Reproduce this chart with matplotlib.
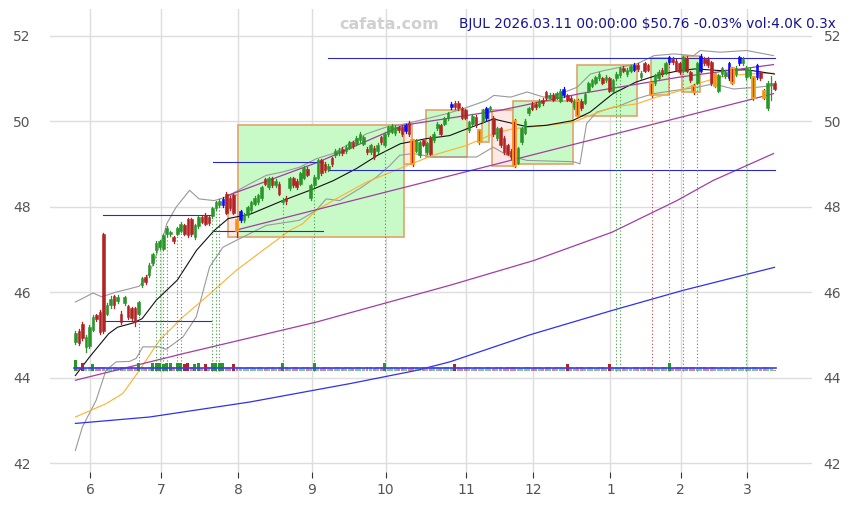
import matplotlib
matplotlib.use("Agg")
from matplotlib import pyplot as plt
from matplotlib.patches import Rectangle
import pandas as pd

# daily bars
opens = [44.83, 45.09, 45.25, 44.72, 44.75, 45.12, 45.46, 45.54, 47.35, 45.50,
         45.69, 45.90, 45.79, 45.50, 45.74, 45.67, 45.62, 45.62, 45.50, 46.16,
         46.35, 46.39, 46.67, 46.98, 47.05, 47.02, 47.35, 47.35, 47.28, 47.37,
         47.44, 47.56, 47.70, 47.70, 47.28, 47.55, 47.75, 47.80, 47.75, 47.77,
         47.96, 48.03, 48.03, 48.30, 48.20, 48.26, 47.68, 47.68, 47.68, 47.80,
         47.91, 48.07, 48.10, 48.20, 48.64, 48.45, 48.66, 48.50, 48.54, 48.10,
         48.20, 48.43, 48.66, 48.60, 48.54, 48.68, 48.88, 48.20, 48.50, 48.68,
         49.08, 49.00, 48.87, 49.13, 49.20, 49.25, 49.35, 49.30, 49.38, 49.50,
         49.47, 49.55, 49.47, 49.35, 49.27, 49.38, 49.30, 49.62, 49.45, 49.70,
         49.75, 49.72, 49.85, 49.85, 49.76, 49.96, 49.55, 49.31, 49.20, 49.55,
         49.27, 49.60, 49.55, 49.83, 49.90, 49.94, 50.06, 50.32, 50.43, 50.43,
         50.30, 50.25, 49.78, 49.94, 50.10, 49.50, 50.01, 50.06, 50.28, 50.08,
         49.60, 49.83, 49.60, 49.43, 49.30, 50.00, 49.03, 49.50, 49.73, 50.18,
         50.41, 50.40, 50.36, 50.50, 50.67, 50.55, 50.62, 50.55, 50.48, 50.60,
         50.60, 50.55, 50.32, 50.48, 50.48, 50.43, 50.71, 50.83, 50.90, 51.00,
         51.00, 50.95, 51.00, 50.71, 51.00, 51.07, 51.25, 51.10, 51.18, 51.20,
         51.32, 51.02, 51.35, 51.30, 50.88, 50.88, 51.00, 51.20, 51.13, 51.37,
         51.45, 51.40, 51.35, 51.18, 51.47, 51.14, 50.83, 50.90, 51.18, 51.46,
         51.46, 51.37, 50.83, 50.71, 51.10, 51.05, 51.00, 51.23, 51.10, 51.35,
         51.35, 51.02, 51.05, 50.53, 51.02, 51.14, 50.71, 50.30, 50.85, 50.90]
closes = [45.04, 44.81, 44.92, 44.95, 45.18, 45.42, 45.36, 45.07, 45.10, 45.69,
          45.85, 45.69, 45.89, 45.29, 45.88, 45.41, 45.39, 45.29, 45.76, 46.32,
          46.23, 46.63, 46.88, 47.16, 47.19, 47.33, 47.51, 47.40, 47.19, 47.49,
          47.60, 47.37, 47.33, 47.35, 47.56, 47.75, 47.65, 47.60, 47.62, 47.96,
          48.10, 48.14, 48.18, 47.86, 47.96, 47.86, 47.44, 47.89, 47.80, 47.98,
          48.10, 48.20, 48.26, 48.45, 48.54, 48.66, 48.50, 48.60, 48.30, 48.16,
          48.12, 48.66, 48.50, 48.45, 48.78, 48.90, 48.75, 48.50, 48.70, 49.08,
          48.78, 48.85, 48.96, 49.00, 49.30, 49.33, 49.25, 49.40, 49.50, 49.42,
          49.60, 49.70, 49.62, 49.28, 49.43, 49.15, 49.45, 49.50, 49.70, 49.85,
          49.88, 49.86, 49.78, 49.70, 49.90, 49.70, 49.00, 49.55, 49.50, 49.45,
          49.48, 49.24, 49.70, 49.94, 49.70, 50.06, 50.18, 50.41, 50.32, 50.30,
          50.08, 50.08, 49.97, 50.13, 49.90, 49.78, 50.25, 50.30, 50.32, 49.70,
          49.83, 49.43, 49.27, 49.24, 49.15, 48.96, 49.36, 49.83, 50.00, 50.30,
          50.29, 50.32, 50.48, 50.42, 50.53, 50.62, 50.50, 50.65, 50.70, 50.76,
          50.50, 50.48, 50.48, 50.13, 50.30, 50.64, 50.88, 50.95, 51.02, 51.10,
          50.90, 51.03, 50.71, 50.95, 51.10, 51.23, 51.18, 51.20, 51.28, 51.32,
          51.22, 51.13, 51.18, 51.20, 50.62, 51.07, 51.15, 51.10, 51.35, 51.49,
          51.38, 51.20, 51.15, 51.49, 51.18, 50.95, 50.67, 51.35, 51.53, 51.35,
          51.30, 50.88, 51.10, 51.07, 51.23, 51.15, 51.35, 50.90, 51.25, 51.49,
          51.46, 51.25, 51.20, 51.02, 51.30, 51.00, 50.55, 50.90, 50.90, 50.76]
highs = [45.10, 45.14, 45.30, 45.00, 45.22, 45.46, 45.50, 45.58, 47.38, 45.74,
         45.90, 45.94, 45.93, 45.55, 45.92, 45.71, 45.66, 45.66, 45.80, 46.36,
         46.39, 46.67, 46.92, 47.20, 47.23, 47.37, 47.55, 47.44, 47.32, 47.53,
         47.64, 47.60, 47.74, 47.74, 47.60, 47.79, 47.79, 47.84, 47.79, 48.00,
         48.14, 48.18, 48.22, 48.34, 48.24, 48.30, 47.72, 47.93, 47.84, 48.02,
         48.14, 48.24, 48.30, 48.49, 48.68, 48.70, 48.70, 48.64, 48.58, 48.20,
         48.24, 48.70, 48.70, 48.64, 48.82, 48.94, 48.92, 48.54, 48.74, 49.12,
         49.12, 49.04, 49.00, 49.17, 49.34, 49.37, 49.39, 49.44, 49.54, 49.54,
         49.64, 49.74, 49.66, 49.39, 49.47, 49.42, 49.49, 49.66, 49.74, 49.89,
         49.92, 49.90, 49.89, 49.89, 49.94, 50.00, 49.59, 49.59, 49.54, 49.59,
         49.52, 49.64, 49.74, 49.98, 49.94, 50.10, 50.22, 50.45, 50.47, 50.47,
         50.34, 50.29, 50.01, 50.17, 50.14, 49.82, 50.29, 50.34, 50.36, 50.12,
         49.87, 49.87, 49.64, 49.47, 49.34, 50.04, 49.40, 49.87, 50.04, 50.34,
         50.45, 50.44, 50.52, 50.54, 50.71, 50.66, 50.66, 50.69, 50.74, 50.80,
         50.64, 50.59, 50.52, 50.52, 50.52, 50.68, 50.92, 50.99, 51.06, 51.14,
         51.04, 51.07, 51.04, 50.99, 51.14, 51.27, 51.29, 51.24, 51.32, 51.36,
         51.36, 51.17, 51.39, 51.34, 50.92, 51.11, 51.19, 51.24, 51.39, 51.53,
         51.49, 51.44, 51.39, 51.53, 51.51, 51.18, 50.87, 51.39, 51.57, 51.50,
         51.50, 51.41, 51.14, 51.11, 51.27, 51.19, 51.39, 51.27, 51.29, 51.53,
         51.50, 51.29, 51.24, 51.06, 51.34, 51.18, 50.75, 50.94, 51.05, 50.94]
lows = [44.78, 44.76, 44.88, 44.60, 44.70, 45.08, 45.32, 45.02, 45.05, 45.46,
        45.64, 45.64, 45.75, 45.25, 45.70, 45.37, 45.35, 45.20, 45.46, 46.12,
        46.19, 46.35, 46.63, 46.94, 47.01, 46.98, 47.31, 47.31, 47.15, 47.33,
        47.40, 47.33, 47.29, 47.31, 47.24, 47.51, 47.61, 47.56, 47.58, 47.73,
        47.92, 47.99, 47.99, 47.82, 47.92, 47.82, 47.28, 47.64, 47.64, 47.76,
        47.87, 48.03, 48.06, 48.16, 48.50, 48.41, 48.46, 48.46, 48.26, 48.06,
        48.06, 48.39, 48.46, 48.41, 48.50, 48.64, 48.71, 48.16, 48.46, 48.64,
        48.74, 48.81, 48.83, 48.96, 49.16, 49.21, 49.21, 49.26, 49.34, 49.38,
        49.43, 49.51, 49.43, 49.24, 49.23, 49.11, 49.26, 49.46, 49.41, 49.66,
        49.71, 49.68, 49.74, 49.66, 49.72, 49.66, 48.96, 49.27, 49.16, 49.41,
        49.23, 49.20, 49.51, 49.79, 49.66, 49.90, 50.02, 50.28, 50.28, 50.26,
        50.04, 50.04, 49.74, 49.90, 49.86, 49.46, 49.97, 50.02, 50.24, 49.66,
        49.56, 49.39, 49.23, 49.20, 49.11, 48.92, 48.99, 49.46, 49.69, 50.14,
        50.25, 50.28, 50.32, 50.38, 50.49, 50.51, 50.46, 50.51, 50.44, 50.56,
        50.46, 50.44, 50.28, 50.09, 50.26, 50.39, 50.67, 50.79, 50.86, 50.96,
        50.86, 50.91, 50.67, 50.67, 50.96, 51.03, 51.14, 51.06, 51.14, 51.16,
        51.18, 50.98, 51.14, 51.16, 50.58, 50.84, 50.96, 51.06, 51.09, 51.33,
        51.34, 51.16, 51.11, 51.14, 51.14, 50.91, 50.63, 50.86, 51.14, 51.31,
        51.26, 50.84, 50.79, 50.67, 51.06, 51.01, 50.96, 50.86, 51.06, 51.31,
        51.31, 50.98, 51.01, 50.49, 50.98, 50.96, 50.51, 50.26, 50.50, 50.72]
volumes = [32, 12, 22, 10, 12, 21, 11, 12, 13, 10, 9, 11, 10, 12, 11, 9, 12, 10, 22, 11,
           10, 12, 22, 23, 22, 21, 22, 23, 12, 22, 22, 21, 22, 12, 21, 22, 10, 21, 11, 22,
           23, 22, 22, 12, 11, 21, 13, 12, 10, 11, 12, 10, 11, 12, 10, 11, 12, 10, 11, 22,
           12, 10, 11, 12, 10, 11, 12, 10, 22, 11, 10, 12, 11, 10, 12, 11, 10, 12, 11, 10,
           12, 11, 10, 12, 11, 10, 12, 11, 22, 10, 11, 12, 10, 11, 12, 10, 13, 11, 10, 12,
           11, 10, 12, 11, 10, 12, 11, 10, 21, 12, 10, 11, 12, 10, 11, 12, 10, 11, 12, 10,
           11, 12, 10, 11, 12, 13, 11, 10, 12, 11, 10, 12, 11, 10, 12, 11, 10, 12, 11, 10,
           21, 11, 10, 12, 11, 10, 12, 11, 10, 12, 11, 10, 21, 11, 12, 10, 11, 12, 10, 11,
           12, 10, 11, 12, 13, 11, 10, 12, 11, 22, 10, 12, 11, 10, 12, 11, 13, 10, 12, 11,
           10, 12, 11, 10, 12, 11, 10, 12, 11, 10, 12, 11, 10, 11, 12, 10, 11, 12, 10, 4]

blue_bars = [42, 47, 94, 107, 117, 139, 159, 169, 178, 186, 189, 194]
orange_bars = [46, 96, 115, 125, 143, 164, 176, 182, 187, 193, 196]
signal_up = [18, 23, 24, 25, 26, 29, 30, 39, 40, 41, 59, 68, 88, 154, 155, 169, 173, 177, 191]
signal_dn = [164]

# indicator lines, (bar index, price)
ma_black = [(0, 44.05), (4, 44.48), (9.5, 45.03), (12, 45.18), (16.5, 45.28), (19, 45.38),
            (23, 45.81), (29, 46.28), (34.5, 46.98), (39.5, 47.44), (43.5, 47.72), (50, 47.83),
            (59, 48.14), (68, 48.42), (73.5, 48.61), (80, 48.89), (86, 49.2), (92.5, 49.47),
            (100, 49.59), (106.5, 49.66), (111.5, 49.82), (119, 50.05), (121, 50.01),
            (128.5, 49.87), (134, 49.9), (141.5, 50.01), (146.5, 50.21), (153, 50.64),
            (159.5, 50.91), (165.5, 51.07), (172, 51.18), (176.5, 51.22), (183.5, 51.18),
            (191, 51.2), (199, 51.1)]
band_up = [(0, 45.77), (2, 45.85), (5, 45.98), (7.5, 45.89), (11.5, 46.0), (15.5, 46.08),
           (18.2, 46.14), (21, 46.43), (23, 46.86), (25.5, 47.44), (26, 47.6), (28.7, 47.99),
           (32.5, 48.38), (35.2, 48.18), (39.5, 48.14), (42.8, 48.22), (49.6, 48.53),
           (54.3, 48.73), (59, 48.81), (63.8, 48.92), (68.6, 49.12), (73.3, 49.24), (78, 49.47),
           (82.8, 49.7), (88.5, 49.86), (94.2, 49.94), (105.6, 50.17), (110.4, 50.29),
           (117, 50.48), (119.1, 50.6), (123.9, 50.56), (128.6, 50.68), (133.3, 50.56),
           (138.1, 50.64), (142.8, 50.79), (146.6, 51.1), (150.4, 51.18), (155.2, 51.26),
           (159.9, 51.34), (164.7, 51.53), (170.4, 51.57), (176, 51.53), (177.8, 51.65),
           (183.5, 51.61), (191.1, 51.65), (198.7, 51.53)]
band_dn = [(0, 42.3), (2, 42.85), (5.9, 43.47), (8.7, 44.17), (11.6, 44.37), (15.4, 44.38),
           (17.3, 44.45), (19.2, 44.72), (23.9, 44.72), (25.8, 44.66), (30.6, 44.95),
           (34.4, 45.42), (38.2, 46.59), (42, 47.05), (45.8, 47.21), (54.3, 47.56),
           (63.8, 47.68), (68.5, 47.91), (71.4, 48.18), (75.2, 48.14), (80.9, 48.42),
           (85.7, 48.69), (89.5, 48.96), (92.3, 49.2), (96.1, 49.24), (101.8, 49.16),
           (107.5, 49.16), (114.2, 49.16), (118.9, 49.39), (123, 49.2), (128.5, 49.08),
           (141.7, 49.05), (143.6, 49.0), (145.5, 49.94), (148.4, 50.21), (155, 50.36),
           (159.7, 50.52), (164.5, 50.64), (170.2, 50.71), (176.8, 50.79), (181.6, 50.87),
           (187.3, 50.75), (193.9, 50.79), (198.7, 50.83)]
ma_orange = [(0, 43.08), (8.7, 43.39), (13.5, 43.63), (18.2, 44.17), (23.9, 44.87),
             (30.6, 45.42), (37.3, 45.89), (45.8, 46.51), (53.4, 46.98), (61, 47.44),
             (64.7, 47.6), (68.6, 47.91), (73.3, 48.14), (82.8, 48.57), (92.3, 48.89),
             (101.8, 49.2), (111.3, 49.43), (118.9, 49.7), (124.5, 49.82), (134.1, 49.9),
             (141.7, 49.97), (146.4, 50.13), (153.1, 50.33), (159.7, 50.4), (165.4, 50.56),
             (172.1, 50.71), (176.8, 50.87), (183.5, 51.03), (191.1, 51.1), (198.7, 51.12)]
trend_up = [(43.4, 48.26), (69.1, 49.04), (93.2, 49.9), (120.8, 50.25), (143.6, 50.64),
            (172.1, 51.03), (198.7, 51.32)]
trend_dn = [(46.2, 47.46), (198.7, 50.64)]
ma_purple = [(0, 43.94), (30.6, 44.56), (68.6, 45.3), (106.6, 46.16), (130.5, 46.74),
             (152.7, 47.4), (171.2, 48.14), (181.5, 48.61), (198.7, 49.24)]
ma_blue = [(0, 42.93), (21.1, 43.08), (49.6, 43.43), (78.1, 43.86), (97.1, 44.17),
           (106.6, 44.37), (129.3, 45.0), (152.7, 45.57), (172.9, 46.04), (199, 46.58)]

# pivot levels: (first bar, last bar, price)
levels = [(8, 38.7, 47.80), (8, 38.7, 45.32), (39.2, 70.5, 49.04), (39.2, 70.5, 47.44),
          (71.9, 199, 51.48), (71.9, 199, 48.86)]
# boxes: (first bar, last bar, low, high, kind)
boxes = [(43.4, 46.2, 47.28, 48.26, "dn"), (46.2, 93.4, 47.28, 49.90, "up"),
         (93.4, 95.7, 49.00, 49.90, "dn"), (99.7, 111.4, 49.17, 50.27, "up"),
         (115.7, 117.7, 49.50, 50.27, "up"), (118.5, 124.5, 48.96, 50.27, "dn"),
         (124.5, 141.6, 48.99, 50.48, "up"), (142.7, 159.8, 50.11, 51.32, "up"),
         (163.8, 168.9, 50.62, 51.48, "up"), (172.6, 177.8, 50.67, 51.53, "up")]

holidays = ["2025-05-26", "2025-06-19", "2025-07-04", "2025-09-01", "2025-11-27",
            "2025-12-25", "2026-01-01", "2026-01-19", "2026-02-16"]
dates = pd.bdate_range("2025-05-23", "2026-03-11")
dates = dates[~dates.isin(pd.to_datetime(holidays))]

GREEN = "#2a962a"
RED = "#b22424"
VOL_BASE = 44.15
YLIM = (41.79, 52.63)

fig = plt.figure(figsize=(8.49, 5.05), dpi=100)
ax = fig.add_axes([0.059, 0.065, 0.898, 0.918])

for (x0, x1, lo, hi, kind) in boxes:
    face = "#c8fac8" if kind == "up" else "#fde8e6"
    ax.add_patch(Rectangle((x0, lo), x1 - x0, hi - lo, facecolor=face,
                           edgecolor="#e0a46a", lw=1.2, zorder=1))

for pts, col, lw in [(band_up, "#999999", 0.8), (band_dn, "#999999", 0.8),
                     (ma_orange, "#ffb02e", 0.8), (ma_black, "#111111", 0.8),
                     (trend_up, "#a43ca4", 0.9), (trend_dn, "#a43ca4", 0.9),
                     (ma_purple, "#a43ca4", 0.9), (ma_blue, "#3030f0", 0.9)]:
    ax.plot([p[0] for p in pts], [p[1] for p in pts], color=col, lw=lw, zorder=2)

for (x0, x1, y) in levels:
    ax.plot([x0, x1], [y, y], color="#2a2acc", lw=0.8, zorder=2)

# signal markers down to the volume strip
for i in signal_up:
    ax.plot([i, i], [VOL_BASE, lows[i]], color="#3aa03a", lw=0.8, ls=(0, (1, 2)), zorder=2)
for i in signal_dn:
    ax.plot([i, i], [VOL_BASE, lows[i]], color="#d04040", lw=0.8, ls=(0, (1, 2)), zorder=2)

# volume strip
for i, v in enumerate(volumes):
    up = closes[i] >= opens[i]
    ax.bar(i, v * 0.0085, bottom=VOL_BASE, width=0.85,
           color=GREEN if up else RED, alpha=1.0 if v >= 20 else 0.55, lw=0, zorder=3)
ax.plot([-0.5, 199.5], [44.23, 44.23], color="#3a3aff", lw=1.2, zorder=4)

# candles
w = 0.74
for i in range(len(closes)):
    o, c = opens[i], closes[i]
    col = GREEN if c >= o else RED
    if i in blue_bars:
        col = "#0a0aff"
    ax.plot([i, i], [lows[i], highs[i]], color=col, lw=0.9, zorder=5)
    edge = "#ff9a1a" if i in orange_bars else col
    ax.add_patch(Rectangle((i - w / 2, min(o, c)), w, abs(c - o), facecolor=col,
                           edgecolor=edge, lw=1.3 if i in orange_bars else 0.4, zorder=6))

month_pos = [i for i in range(len(dates)) if i == 0 or dates[i].month != dates[i - 1].month][1:]
ax.set_xticks([i - 0.7 for i in month_pos])
ax.set_xticklabels([str(dates[i].month) for i in month_pos])
ax.set_yticks([42, 44, 46, 48, 50, 52])
ax.set_xlim(-7.2, 209.8)
ax.set_ylim(*YLIM)
ax.grid(True, color="#dddddd", lw=1.0)
ax.set_axisbelow(True)
for s in ax.spines.values():
    s.set_visible(False)
ax.tick_params(axis="y", length=0, labelsize=10, labelcolor="#555555", pad=14)
ax.tick_params(axis="x", length=4, labelsize=10, labelcolor="#555555", color="#333333")

# price labels repeated on the right
ax2 = ax.twinx()
ax2.set_ylim(*YLIM)
ax2.set_yticks([42, 44, 46, 48, 50, 52])
ax2.tick_params(axis="y", length=0, labelsize=10, labelcolor="#555555", pad=8)
for s in ax2.spines.values():
    s.set_visible(False)

fig.text(0.458, 0.952, "cafata.com", ha="center", va="center", color="#d0d0d0",
         fontsize=11.5, fontweight="bold")
fig.text(0.984, 0.953, "BJUL 2026.03.11 00:00:00 $50.76 -0.03% vol:4.0K 0.3x",
         ha="right", va="center", color="#141490", fontsize=9.8)

fig.savefig("out.png", dpi=100)
